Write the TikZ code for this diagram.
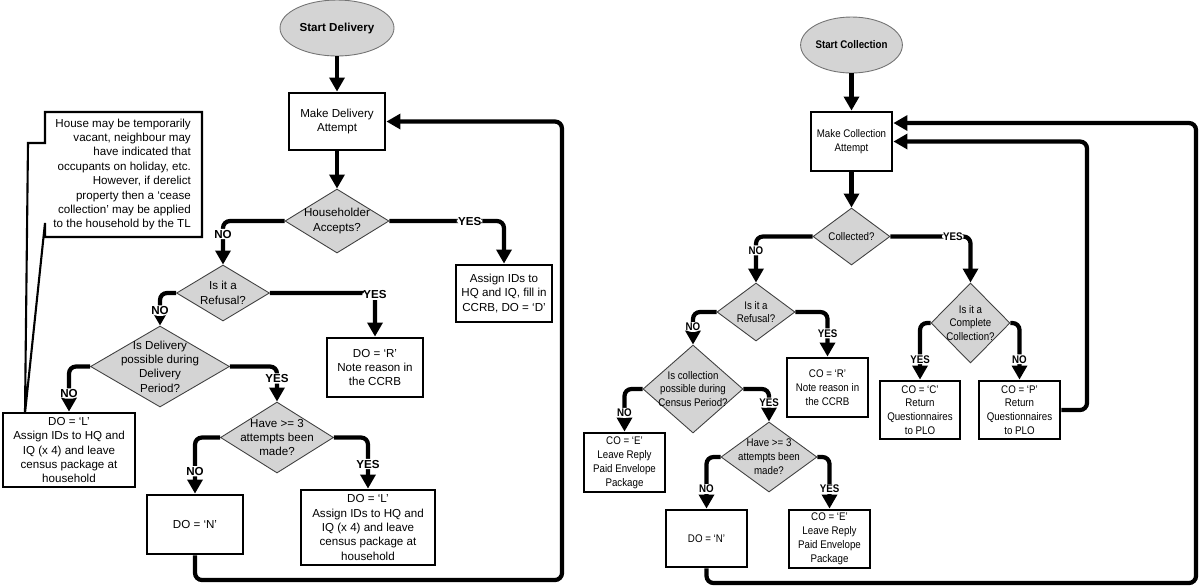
\documentclass[tikz,border=0pt]{standalone}
\usepackage{fontspec}
\setmainfont{Liberation Sans}
\newfontfamily\narrowsf[FakeStretch=0.88]{Liberation Sans}
\usetikzlibrary{shapes.geometric,arrows.meta}

\newcommand{\lsz}{\fontsize{6.6}{8.2}\selectfont}
\newcommand{\rsz}{\narrowsf\fontsize{6.3}{7.9}\selectfont}

\tikzset{
  box/.style={rectangle,draw,line width=1.6pt,fill=white,align=center,inner sep=1pt},
  dec/.style={diamond,draw=black!75,line width=0.5pt,fill=black!17,inner sep=0pt,label={center:#1}},
  start/.style={ellipse,draw=black!55,line width=0.5pt,fill=black!17,inner sep=0pt,execute at begin node=\bfseries},
  flow/.style={line width=2.4pt,rounded corners=4pt,-{Triangle[length=8pt,width=8.5pt]}},
  yn/.style={fill=white,inner sep=0.6pt,execute at begin node=\bfseries},
  every label/.style={align=center,inner sep=0pt},
}

\begin{document}
\begin{tikzpicture}[x=0.02cm,y=-0.02cm]
\useasboundingbox (0,0) rectangle (1200,586);

\begin{scope}[font=\lsz]
\node[start, minimum width=2.28cm, minimum height=1.12cm] (sd) at (337,28) {Start Delivery};
\node[box, minimum width=1.92cm, minimum height=1.14cm] (mda) at (337,121.5) {Make Delivery\\Attempt};
\node[dec={Householder\\Accepts?}, minimum width=2.08cm, minimum height=1.28cm] (hacc) at (337,221) {};
\node[box, minimum width=1.92cm, minimum height=1.14cm] (aid) at (504,293.5) {Assign IDs to\\HQ and IQ, fill in\\CCRB, DO = ‘D’};
\node[dec={Is it a\\Refusal?}, minimum width=1.86cm, minimum height=1.12cm] (refl) at (223,293) {};
\node[box, minimum width=1.92cm, minimum height=1.18cm] (dor) at (375,367.5) {DO = ‘R’\\Note reason in\\the CCRB};
\node[dec={Is Delivery\\possible during\\Delivery\\Period?}, minimum width=2.78cm, minimum height=1.62cm] (dpos) at (160,366.5) {};
\node[box, minimum width=2.64cm, minimum height=1.48cm] (dll) at (69,450) {DO = ‘L’\\Assign IDs to HQ and\\IQ (x 4) and leave\\census package at\\household};
\node[dec={Have >= 3\\attempts been\\made?}, minimum width=2.26cm, minimum height=1.42cm] (att) at (277,437.5) {};
\node[box, minimum width=1.92cm, minimum height=1.18cm] (dn) at (195,524.5) {DO = ‘N’};
\node[box, minimum width=2.68cm, minimum height=1.50cm] (dlr) at (368,527.5) {DO = ‘L’\\Assign IDs to HQ and\\IQ (x 4) and leave\\census package at\\household};

\draw[line width=1.2pt, fill=white] (45,112) -- (202,112) -- (202,237) -- (45,237) -- (45,223) -- (25,413) -- (28,143) -- (45,143) -- cycle;
\node[anchor=east, align=right] (note) at (197,174.5) {House may be temporarily\\vacant, neighbour may\\have indicated that\\occupants on holiday, etc.\\However, if derelict\\property then a ‘cease\\collection’ may be applied\\to the household by the TL};

\draw[flow] (sd) -- (mda);
\draw[flow] (mda) -- (hacc);
\draw[flow] (hacc.west) -| node[yn,pos=.65]{NO} (refl.north);
\draw[flow] (hacc.east) -| node[yn,pos=.35]{YES} (aid.north);
\draw[flow] (refl.west) -| node[yn,pos=.77]{NO} (dpos.north);
\draw[flow] (refl.east) -| node[yn,pos=.52]{YES} (dor.north);
\draw[flow] (dpos.west) -| node[yn,pos=.8]{NO} (dll.north);
\draw[flow] (dpos.east) -| node[yn,pos=.67]{YES} (att.north);
\draw[flow] (att.west) -| node[yn,pos=.8]{NO} (dn.north);
\draw[flow] (att.east) -| node[yn,pos=.76]{YES} (dlr.north);
\coordinate (lpd) at (562,580);
\draw[flow] (dn.south) |- (lpd) |- (mda.east);
\end{scope}

\begin{scope}[font=\rsz]
\node[start, minimum width=1.96cm, minimum height=1.12cm] (sc) at (851.5,45) {Start Collection};
\node[box, minimum width=1.62cm, minimum height=1.18cm] (mca) at (851.5,141.5) {Make Collection\\Attempt};
\node[dec={Collected?}, minimum width=1.54cm, minimum height=1.14cm] (coll) at (851.5,236.5) {};
\node[dec={Is it a\\Refusal?}, minimum width=1.56cm, minimum height=1.16cm] (refr) at (756,312) {};
\node[box, minimum width=1.62cm, minimum height=1.18cm] (cor) at (827.5,387.5) {CO = ‘R’\\Note reason in\\the CCRB};
\node[dec={Is collection\\possible during\\Census Period?}, minimum width=2.00cm, minimum height=1.76cm] (cpos) at (693,389) {};
\node[box, minimum width=1.62cm, minimum height=1.18cm] (cel) at (624.5,462.5) {CO = ‘E’\\Leave Reply\\Paid Envelope\\Package};
\node[dec={Have >= 3\\attempts been\\made?}, minimum width=1.92cm, minimum height=1.40cm] (attr) at (769,457) {};
\node[box, minimum width=1.62cm, minimum height=1.14cm] (dnr) at (706.5,538.5) {DO = ‘N’};
\node[box, minimum width=1.62cm, minimum height=1.16cm] (cer) at (829.5,539) {CO = ‘E’\\Leave Reply\\Paid Envelope\\Package};
\node[dec={Is it a\\Complete\\Collection?}, minimum width=1.58cm, minimum height=1.60cm] (comp) at (970.5,323) {};
\node[box, minimum width=1.60cm, minimum height=1.16cm] (coc) at (920,410) {CO = ‘C’\\Return\\Questionnaires\\to PLO};
\node[box, minimum width=1.62cm, minimum height=1.16cm] (cop) at (1019.5,410) {CO = ‘P’\\Return\\Questionnaires\\to PLO};

\draw[flow] (sc) -- (mca);
\draw[flow] (mca) -- (coll);
\draw[flow] (coll.west) -| node[yn,pos=.65]{NO} (refr.north);
\draw[flow] (coll.east) -| node[yn,pos=.39]{YES} (comp.north);
\draw[flow] (refr.west) -| node[yn,pos=.73]{NO} (cpos.north);
\draw[flow] (refr.east) -| node[yn,pos=.74]{YES} (cor.north);
\draw[flow] (cpos.west) -| node[yn,pos=.78]{NO} (cel.north);
\draw[flow] (cpos.east) -| node[yn,pos=.71]{YES} (attr.north);
\draw[flow] (attr.west) -| node[yn,pos=.81]{NO} (dnr.north);
\draw[flow] (attr.east) -| node[yn,pos=.81]{YES} (cer.north);
\draw[flow] (comp.west) -| node[yn,pos=.82]{YES} (coc.north);
\draw[flow] (comp.east) -| node[yn,pos=.82]{NO} (cop.north);
\coordinate (lpc) at (1196,583);
\draw[flow] (dnr.south) |- (lpc) |- ([yshift=3.7mm]mca.east);
\coordinate (lpp) at (1087,141.5);
\draw[flow] (cop.east) -| (lpp) -- (mca.east);
\end{scope}
\end{tikzpicture}
\end{document}
